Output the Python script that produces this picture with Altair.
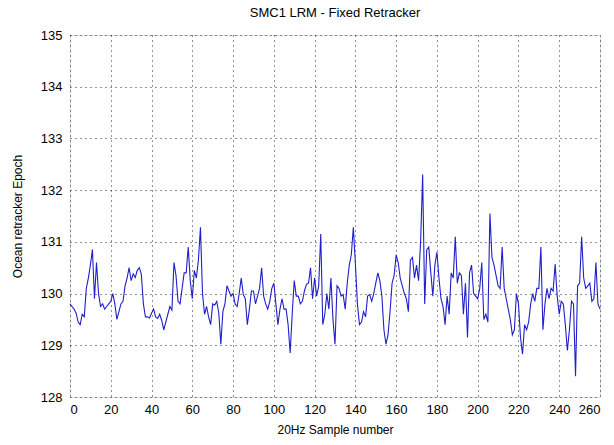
import altair as alt
import pandas as pd

epoch = [
    129.80, 129.75, 129.70, 129.62, 129.45, 129.40, 129.60, 129.55, 130.10, 130.30,
    130.55, 130.85, 129.90, 130.60, 130.00, 129.75, 129.80, 129.70, 129.75, 129.80,
    129.85, 130.00, 129.80, 129.50, 129.65, 129.80, 129.85, 130.15, 130.30, 130.50,
    130.25, 130.38, 130.31, 130.45, 130.50, 130.37, 129.80, 129.55, 129.55, 129.53,
    129.62, 129.70, 129.55, 129.52, 129.60, 129.48, 129.30, 129.45, 129.60, 129.75,
    129.68, 130.60, 130.35, 129.85, 129.80, 130.10, 130.40, 130.40, 130.90, 130.25,
    129.90, 130.45, 130.30, 130.65, 131.28, 130.00, 129.60, 129.75, 129.55, 129.40,
    129.80, 129.78, 129.85, 129.62, 129.02, 129.65, 129.80, 130.15, 130.05, 129.95,
    130.00, 129.80, 129.75, 130.00, 130.30, 129.98, 129.90, 129.40, 129.70, 130.05,
    130.05, 129.80, 129.95, 130.10, 130.50, 129.95, 129.80, 129.70, 129.85, 130.10,
    130.20, 129.80, 129.40, 129.70, 129.90, 129.70, 129.70, 129.40, 128.85, 129.60,
    130.25, 129.95, 129.95, 129.80, 129.85, 130.05, 130.18, 130.20, 130.50, 129.90,
    130.30, 129.95, 130.15, 131.15, 129.40, 129.60, 130.00, 129.70, 130.30, 129.50,
    129.02, 130.15, 130.10, 129.95, 129.98, 129.70, 130.20, 130.55, 130.75, 131.28,
    130.57, 129.80, 129.40, 129.45, 129.65, 129.55, 129.95, 129.98, 129.85, 130.00,
    130.20, 130.40, 130.25, 129.95, 129.30, 129.02, 129.20, 129.65, 130.20, 130.35,
    130.75, 130.60, 130.30, 130.15, 130.00, 129.90, 129.65, 130.65, 130.70, 130.30,
    130.55, 130.25, 131.00, 132.30, 129.80, 130.85, 130.90, 130.40, 129.95, 130.55,
    130.80, 130.30, 129.90, 129.75, 129.40, 129.95, 129.60, 130.40, 130.30, 131.10,
    130.20, 130.40, 130.35, 129.60, 130.20, 129.15, 130.40, 130.55, 130.00, 129.95,
    129.90, 130.10, 130.60, 129.50, 129.60, 129.45, 131.55, 130.70, 130.55, 130.35,
    130.15, 130.10, 130.90, 130.10, 129.90, 129.70, 129.50, 129.20, 129.30, 130.00,
    129.80, 129.15, 128.83, 129.40, 129.30, 129.45, 129.80, 130.00, 129.85, 130.10,
    130.10, 130.90, 129.30, 129.80, 130.10, 129.90, 130.10, 130.05, 130.57, 129.95,
    129.60, 129.85, 129.80, 129.40, 128.90, 129.30, 129.85, 129.80, 128.40, 130.15,
    130.20, 131.10, 130.30, 130.10, 130.15, 130.20, 129.85, 129.90, 130.60, 129.80,
    129.70,
]
sample = list(range(len(epoch)))
x_ticks = list(range(0, 261, 20))
y_ticks = list(range(128, 136))

df = pd.DataFrame({"sample": sample, "epoch": epoch})

FONT = "Liberation Sans"

chart = alt.Chart(df).mark_line(color="#2020c8", strokeWidth=1.1).encode(
    x=alt.X("sample:Q",
            scale=alt.Scale(domain=[0, 260], nice=False, zero=False),
            axis=alt.Axis(values=x_ticks, title="20Hz Sample number",
                          grid=True, gridColor="#000000", gridDash=[1, 4], gridOpacity=0.85,
                          domain=False, ticks=False, labelPadding=6,
                          labelFont=FONT, labelFontSize=13, labelColor="#000000",
                          titleFont=FONT, titleFontSize=12, titleFontWeight="normal",
                          titleColor="#000000", titlePadding=8)),
    y=alt.Y("epoch:Q",
            scale=alt.Scale(domain=[128, 135], nice=False, zero=False),
            axis=alt.Axis(values=y_ticks, title="Ocean retracker Epoch",
                          grid=True, gridColor="#000000", gridDash=[1, 4], gridOpacity=0.85,
                          domain=False, ticks=False, labelPadding=8,
                          labelFont=FONT, labelFontSize=13, labelColor="#000000",
                          titleFont=FONT, titleFontSize=12, titleFontWeight="normal",
                          titleColor="#000000", titlePadding=16)),
).properties(
    width=530,
    height=362,
    title=alt.TitleParams("SMC1 LRM - Fixed Retracker", font=FONT, fontSize=13,
                          fontWeight="normal", color="#000000", offset=9),
    autosize="none",
    padding={"left": 70, "top": 35, "right": 14, "bottom": 48},
).configure_view(
    stroke="#000000", strokeWidth=1
).configure(background="white")

chart.save("out.html", embed_options={"renderer": "svg", "actions": False})
